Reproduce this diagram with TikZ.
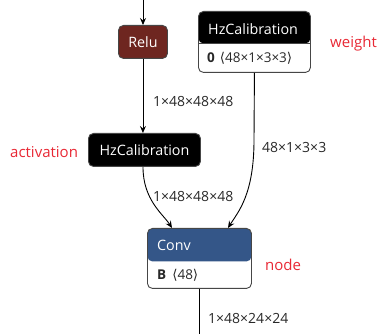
\documentclass[tikz,border=0pt]{standalone}
\usepackage{fontspec}
\setmainfont{Open Sans}
\newfontfamily\dv{DejaVu Sans}
\usetikzlibrary{arrows.meta}
\definecolor{relufill}{RGB}{110,38,32}
\definecolor{convfill}{RGB}{52,86,136}
\definecolor{annot}{RGB}{232,40,52}
\definecolor{lbl}{RGB}{40,40,40}
\definecolor{bord}{RGB}{70,70,70}
\newcommand{\lang}{{\dv\char"27E8}}
\newcommand{\rang}{{\dv\char"27E9}}
\tikzset{
  x=1pt,y=-1pt,
  box/.style={draw=bord, line width=0.9pt, rounded corners=5pt, inner sep=0pt, anchor=north west},
  title/.style={text=white, font=\fontsize{14.3}{16}\selectfont, inner sep=0pt, anchor=west},
  detail/.style={text=lbl, font=\fontsize{13.5}{15}\selectfont, inner sep=0pt, anchor=west},
  elabel/.style={text=lbl, font=\fontsize{14}{16}\selectfont, inner sep=0pt, anchor=west},
  annotation/.style={text=annot, font=\fontsize{15}{17}\selectfont, inner sep=0pt},
  conn/.style={draw=black, line width=0.9pt, -{Stealth[length=7pt,width=6pt,inset=2.5pt]}},
  plain/.style={draw=black, line width=0.9pt},
}
\begin{document}
\begin{tikzpicture}
\useasboundingbox (0,0) rectangle (392,334);
% Relu
\node[box, fill=relufill, minimum width=49pt, minimum height=33pt] (relu) at (118,25) {};
\node[title, anchor=center] (relut) at (relu.center) {Relu};
% weight HzCalibration
\node[box, fill=white, minimum width=112pt, minimum height=61pt,
  path picture={\fill[black] (path picture bounding box.north west) rectangle ([yshift=-32pt]path picture bounding box.north east);}] (w) at (198,11) {};
\draw[bord, line width=0.6pt] ([yshift=-32pt]w.north west) -- ([yshift=-32pt]w.north east);
\node[title] (wt) at (208,29) {HzCalibration};
\node[detail] (wd) at (207,58.5) {\textbf{0}\hspace{5pt}\lang48×1×3×3\rang};
% activation HzCalibration
\node[box, fill=black, minimum width=112pt, minimum height=33pt] (act) at (88,133) {};
\node[title, anchor=center] (actt) at (act.center) {HzCalibration};
% Conv
\node[box, fill=white, minimum width=104pt, minimum height=60pt,
  path picture={\fill[convfill] (path picture bounding box.north west) rectangle ([yshift=-33pt]path picture bounding box.north east);}] (conv) at (147,228) {};
\node[title] (convt) at (157,245) {Conv};
\node[detail] (convd) at (157,275) {\textbf{B}\hspace{6pt}\lang48\rang};
% annotations
\node[annotation, anchor=west] (aw) at (330,44) {weight};
\node[annotation, anchor=west] (aa) at (10,152) {activation};
\node[annotation, anchor=west] (an) at (265,265) {node};
% connectors
\coordinate (top) at (143,0);
\coordinate (bot) at (199,334);
\draw[conn] (top) -- (top |- relu.north);
\draw[conn] (relu.south) -- (relu.south |- act.north);
\draw[conn] (act.south -| 143,0) .. controls (143,200) and (163,214) .. (172,228);
\draw[conn] (w.south) -- (254,140) .. controls (254,195) and (238,212) .. (228,228);
\draw[plain] (conv.south -| bot) -- (bot);
% edge labels
\node[elabel] (l1) at (153,102) {1×48×48×48};
\node[elabel] (l2) at (153,197) {1×48×48×48};
\node[elabel] (l3) at (262,148) {48×1×3×3};
\node[elabel] (l4) at (208,319) {1×48×24×24};
\end{tikzpicture}
\end{document}
